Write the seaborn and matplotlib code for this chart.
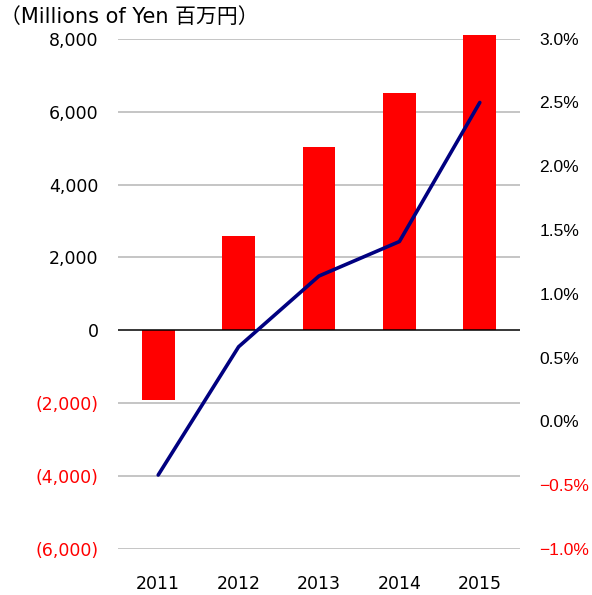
import matplotlib
matplotlib.use("Agg")
import matplotlib.pyplot as plt
import seaborn as sns
import numpy as np
import pandas as pd

years = ["2011", "2012", "2013", "2014", "2015"]
profit = [-1920, 2590, 5020, 6500, 8100]          # Millions of Yen
rate = [-0.42, 0.585, 1.14, 1.41, 2.50]           # percent

left_ticks = [8000, 6000, 4000, 2000, 0, -2000, -4000, -6000]
left_labels = ["8,000", "6,000", "4,000", "2,000", "0", "(2,000)", "(4,000)", "(6,000)"]
right_ticks = [3.0, 2.5, 2.0, 1.5, 1.0, 0.5, 0.0, -0.5, -1.0]
right_labels = ["3.0%", "2.5%", "2.0%", "1.5%", "1.0%", "0.5%", "0.0%", "\u22120.5%", "\u22121.0%"]
title = "（Millions of Yen 百万円）"

sns.set_theme(style="white")
plt.rcParams['font.family'] = ['DejaVu Sans', 'Noto Sans CJK JP']
plt.rcParams['text.color'] = 'black'
plt.rcParams['xtick.color'] = 'black'
plt.rcParams['ytick.color'] = 'black'

fig = plt.figure(figsize=(5.92, 5.95), dpi=100)
ax = fig.add_axes([118/592, 1-549/595, (520-118)/592, (549-38.7)/595])

df = pd.DataFrame({"year": years, "profit": profit})
sns.barplot(data=df, x="year", y="profit", color="#FF0000", saturation=1,
            width=0.41, ax=ax)
for p in ax.patches:
    p.set_clip_on(False)
    p.set_edgecolor("none")

ax.set_ylim(-6000, 8000)
ax.set_xlim(-0.5, len(years) - 0.5)
ax.set_yticks(left_ticks)
ax.set_yticklabels(left_labels)
for t, v in zip(ax.get_yticklabels(), left_ticks):
    t.set_color("#FF0000" if v < 0 else "black")
for t in ax.get_xticklabels():
    t.set_color("black")
for v in left_ticks:
    if v == 0:
        continue
    ax.axhline(v, color="#C0C0C0", lw=1.3, zorder=0)
ax.axhline(0, color="black", lw=1.1, zorder=3)
ax.set_xlabel("")
ax.set_ylabel("")
for s in ax.spines.values():
    s.set_visible(False)
ax.tick_params(axis="y", length=0, pad=14, labelsize=12.5)
ax.tick_params(axis="x", length=0, pad=19, labelsize=12.5)

ax2 = ax.twinx()
sns.lineplot(x=np.arange(len(years)), y=rate, color="#000080", lw=2.6, ax=ax2)
ax2.set_ylim(-1.0, 3.0)
ax2.set_yticks(right_ticks)
ax2.set_yticklabels(right_labels, fontfamily=['Liberation Sans', 'DejaVu Sans'])
for t, v in zip(ax2.get_yticklabels(), right_ticks):
    t.set_color("#FF0000" if v < 0 else "black")
ax2.tick_params(axis="y", length=0, pad=14, labelsize=12.5)
for s in ax2.spines.values():
    s.set_visible(False)
ax2.grid(False)
ax2.set_ylabel("")

fig.text(0.0, 1-17/595, title, fontsize=15, va="center", ha="left")

fig.savefig("out.png", dpi=100)
